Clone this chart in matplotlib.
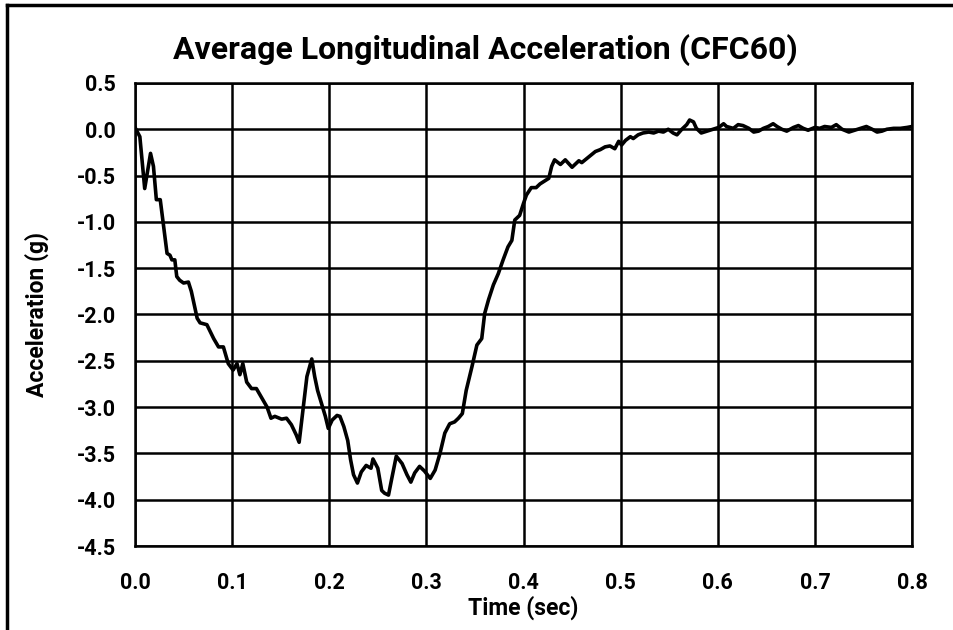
import matplotlib.pyplot as plt
from matplotlib.lines import Line2D

# values
time_s = [0.000, 0.005, 0.010, 0.016, 0.019, 0.022, 0.026, 0.029, 0.033, 0.036,
          0.038, 0.041, 0.043, 0.046, 0.050, 0.055, 0.058, 0.064, 0.067, 0.074,
          0.081, 0.086, 0.091, 0.096, 0.101, 0.105, 0.108, 0.111, 0.115, 0.120,
          0.125, 0.130, 0.136, 0.140, 0.144, 0.151, 0.156, 0.161, 0.166, 0.169,
          0.173, 0.177, 0.182, 0.185, 0.188, 0.192, 0.196, 0.199, 0.203, 0.208,
          0.211, 0.215, 0.219, 0.222, 0.225, 0.229, 0.233, 0.238, 0.243, 0.245,
          0.250, 0.254, 0.257, 0.261, 0.264, 0.269, 0.275, 0.280, 0.284, 0.288,
          0.293, 0.298, 0.304, 0.309, 0.314, 0.319, 0.324, 0.329, 0.333, 0.337,
          0.341, 0.347, 0.352, 0.357, 0.360, 0.364, 0.369, 0.374, 0.379, 0.384,
          0.388, 0.391, 0.396, 0.400, 0.403, 0.408, 0.413, 0.417, 0.426, 0.429,
          0.432, 0.438, 0.443, 0.450, 0.457, 0.460, 0.467, 0.474, 0.479, 0.484,
          0.489, 0.494, 0.498, 0.501, 0.505, 0.510, 0.513, 0.518, 0.523, 0.529,
          0.534, 0.539, 0.544, 0.549, 0.554, 0.558, 0.563, 0.568, 0.571, 0.575,
          0.578, 0.583, 0.589, 0.595, 0.601, 0.606, 0.609, 0.616, 0.621, 0.626,
          0.632, 0.637, 0.642, 0.647, 0.652, 0.657, 0.661, 0.666, 0.671, 0.678,
          0.683, 0.688, 0.693, 0.700, 0.705, 0.710, 0.717, 0.722, 0.728, 0.735,
          0.741, 0.747, 0.753, 0.759, 0.764, 0.769, 0.774, 0.781, 0.788, 0.795,
          0.800]
accel_g = [0.02, -0.08, -0.64, -0.26, -0.40, -0.76, -0.76, -1.01, -1.34, -1.36,
           -1.41, -1.41, -1.59, -1.63, -1.66, -1.65, -1.75, -2.04, -2.09, -2.11,
           -2.26, -2.35, -2.35, -2.53, -2.60, -2.53, -2.65, -2.53, -2.73, -2.80,
           -2.80, -2.89, -3.00, -3.12, -3.10, -3.13, -3.12, -3.19, -3.30, -3.38,
           -3.03, -2.67, -2.48, -2.67, -2.82, -2.96, -3.10, -3.23, -3.14, -3.09,
           -3.10, -3.21, -3.36, -3.57, -3.73, -3.82, -3.70, -3.63, -3.66, -3.56,
           -3.66, -3.90, -3.93, -3.95, -3.79, -3.53, -3.61, -3.73, -3.81, -3.71,
           -3.64, -3.69, -3.77, -3.68, -3.50, -3.28, -3.18, -3.16, -3.12, -3.07,
           -2.82, -2.56, -2.33, -2.26, -1.99, -1.84, -1.68, -1.56, -1.41, -1.27,
           -1.20, -0.98, -0.93, -0.80, -0.71, -0.63, -0.63, -0.59, -0.53, -0.40,
           -0.33, -0.38, -0.33, -0.41, -0.34, -0.36, -0.30, -0.24, -0.22, -0.19,
           -0.18, -0.21, -0.13, -0.17, -0.12, -0.08, -0.10, -0.06, -0.04, -0.03,
           -0.04, -0.02, -0.03, 0.00, -0.04, -0.06, 0.00, 0.05, 0.10, 0.08,
           0.01, -0.04, -0.02, 0.00, 0.02, 0.06, 0.03, 0.01, 0.05, 0.04,
           0.01, -0.03, -0.02, 0.01, 0.03, 0.06, 0.03, 0.00, -0.02, 0.02,
           0.04, 0.01, -0.01, 0.02, 0.01, 0.03, 0.02, 0.05, 0.00, -0.03,
           -0.01, 0.01, 0.03, 0.00, -0.03, -0.02, 0.00, 0.01, 0.01, 0.02,
           0.03]

x_ticks = [0.0, 0.1, 0.2, 0.3, 0.4, 0.5, 0.6, 0.7, 0.8]
y_ticks = [0.5, 0.0, -0.5, -1.0, -1.5, -2.0, -2.5, -3.0, -3.5, -4.0, -4.5]

plt.rcParams['font.family'] = ['Roboto', 'DejaVu Sans']
plt.rcParams['font.weight'] = 'bold'

fig = plt.figure(figsize=(9.54, 6.3), dpi=100)
ax = fig.add_axes([0.1415, 0.1333, 0.8145, 0.735])

ax.plot(time_s, accel_g, color='black', lw=2.6, solid_joinstyle='round')

ax.set_xlim(0, 0.8)
ax.set_ylim(-4.5, 0.5)
ax.set_xticks(x_ticks)
ax.set_yticks(y_ticks)
ax.set_xticklabels([f'{v:.1f}' for v in x_ticks], fontsize=15.5, fontweight='bold')
ax.set_yticklabels([f'{v:.1f}' for v in y_ticks], fontsize=15.5, fontweight='bold')
ax.tick_params(length=0)
ax.tick_params(axis='x', pad=19)
ax.tick_params(axis='y', pad=14)
ax.grid(True, color='black', lw=1.8)
ax.set_axisbelow(True)
for s in ax.spines.values():
    s.set_linewidth(1.8)

# title sits a little left of the plot centre, as in the reference
fig.text(0.509, 0.921, 'Average Longitudinal Acceleration (CFC60)', fontsize=23,
         fontweight='bold', ha='center', va='center')
ax.set_xlabel('Time (sec)', fontsize=16.5, fontweight='bold', labelpad=1)
ax.set_ylabel('Acceleration (g)', fontsize=16.5, fontweight='bold', labelpad=20)

# frame around the picture (left and top edges only, as in the crop)
fig.add_artist(Line2D([0.0075, 0.0075], [0, 0.992], color='black', lw=2.5,
                      transform=fig.transFigure))
fig.add_artist(Line2D([0.0075, 1.0], [0.992, 0.992], color='black', lw=2.5,
                      transform=fig.transFigure))

fig.savefig('out.png', dpi=100)
